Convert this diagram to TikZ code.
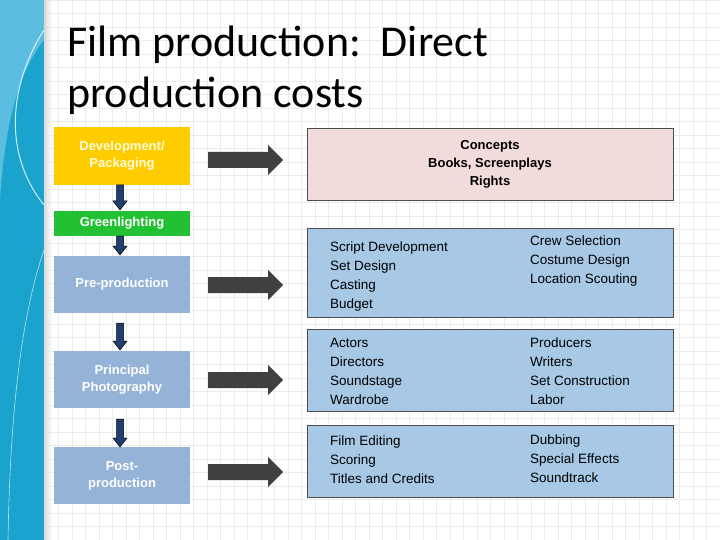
\documentclass[tikz,border=0pt]{standalone}
\usepackage{fontspec}
\setmainfont{Carlito}
\newfontfamily\arialf{Liberation Sans}
\definecolor{side}{HTML}{1AA3CC}
\definecolor{sidel}{HTML}{5BBDE0}
\definecolor{dev}{HTML}{FFCC00}
\definecolor{grn}{HTML}{22C033}
\definecolor{lblue}{HTML}{95B3D7}
\definecolor{rblue}{HTML}{A7C9E6}
\definecolor{pink}{HTML}{F2DCDB}
\definecolor{navy}{HTML}{1F3F6E}
\definecolor{dgray}{HTML}{404040}
\tikzset{
  leftbox/.style={draw=none,minimum width=136pt,align=center,text=white,font=\arialf\fontsize{13pt}{17pt}\selectfont\bfseries,inner sep=0pt},
  rightbox/.style={draw=black!70,line width=0.8pt,minimum width=366pt,inner sep=0pt},
  txt/.style={align=left,anchor=west,font=\arialf\fontsize{13.5pt}{19pt}\selectfont,inner sep=0pt},
  bigarr/.style={fill=dgray},
  smallarr/.style={fill=navy,draw=black,line width=0.5pt}
}
\newcommand\bigarrow[1]{\fill[bigarr] ([xshift=-37pt,yshift=-8pt]#1) -- ++(60,0) -- ++(0,7) -- ++(15,-15) -- ++(-15,-15) -- ++(0,7) -- ++(-60,0) -- cycle;}
\newcommand\smallarrow[3]{\path (#1) coordinate (sa-top) (#2) coordinate (sa-bot); \filldraw[smallarr] ([xshift=-3.5pt]sa-top) -- ([xshift=-3.5pt,yshift=9pt]sa-bot) -- ([xshift=-7pt,yshift=9pt]sa-bot) -- (sa-bot) -- ([xshift=7pt,yshift=9pt]sa-bot) -- ([xshift=3.5pt,yshift=9pt]sa-bot) -- ([xshift=3.5pt]sa-top) -- cycle;}
\begin{document}
\begin{tikzpicture}[x=1pt,y=-1pt]
\useasboundingbox (0,0) rectangle (720,540);
\fill[white] (0,0) rectangle (720,540);
\foreach \i in {0,...,52} {\draw[black!8,line width=0.4pt] (45+\i*13.5,0) -- (45+\i*13.5,540);}
\foreach \j in {0,...,40} {\draw[black!8,line width=0.4pt] (45,\j*13.5) -- (720,\j*13.5);}
\fill[side] (0,0) rectangle (44,540);
\fill[sidel] (0,0) -- (44,0) -- (44,40) .. controls (20,70) and (5,120) .. (0,200) -- cycle;
\draw[white,line width=1pt,opacity=0.8] (44,30) .. controls (12,80) and (0,150) .. (44,205);
\draw[white,line width=0.6pt,opacity=0.7] (44,250) .. controls (20,320) and (10,420) .. (8,540);
\shade[left color=black!25,right color=white,opacity=0.5] (44,0) rectangle (52,540);
\node[anchor=west,align=left,font=\fontsize{44pt}{51pt}\selectfont,inner sep=0pt] (title) at (67,70) {Film production:\ \ Direct\\production costs};

\node[leftbox,fill=dev,text=yellow!15,minimum height=58pt] (dev) at (122,156) {Development/\\Packaging};
\node[leftbox,fill=grn,minimum height=25pt] (gr) at (122,223.5) {Greenlighting};
\node[leftbox,fill=lblue,minimum height=57pt] (pre) at (122,284.5) {Pre-production};
\node[leftbox,fill=lblue,minimum height=57pt] (pp) at (122,379.5) {Principal\\Photography};
\node[leftbox,fill=lblue,minimum height=57pt] (post) at (122,475.5) {Post-\\production};

\smallarrow{120,185}{120,210}{}
\smallarrow{120,236}{120,255}{}
\smallarrow{120,323}{120,350}{}
\smallarrow{120,419}{120,447}{}

\node[rightbox,fill=pink,minimum height=72pt,align=center,font=\arialf\fontsize{13pt}{18pt}\selectfont\bfseries] (con) at (490,164) {Concepts\\Books, Screenplays\\Rights};
\node[rightbox,fill=rblue,minimum height=89pt] (b1) at (490,272.5) {};
\node[rightbox,fill=rblue,minimum height=82pt] (b2) at (490,370) {};
\node[rightbox,fill=rblue,minimum height=72pt] (b3) at (490,461) {};

\node[txt] (t1a) at (330,277) {Script Development\\Set Design\\Casting\\Budget};
\node[txt] (t1b) at (530,261) {Crew Selection\\Costume Design\\Location Scouting};
\node[txt] (t2a) at (330,371) {Actors\\Directors\\Soundstage\\Wardrobe};
\node[txt] (t2b) at (530,371) {Producers\\Writers\\Set Construction\\Labor};
\node[txt] (t3a) at (330,460) {Film Editing\\Scoring\\Titles and Credits};
\node[txt] (t3b) at (530,459) {Dubbing\\Special Effects\\Soundtrack};

\coordinate (a1) at (245,160);
\coordinate (a2) at (245,285);
\coordinate (a3) at (245,380);
\coordinate (a4) at (245,472);
\bigarrow{a1}\bigarrow{a2}\bigarrow{a3}\bigarrow{a4}
\end{tikzpicture}
\end{document}
